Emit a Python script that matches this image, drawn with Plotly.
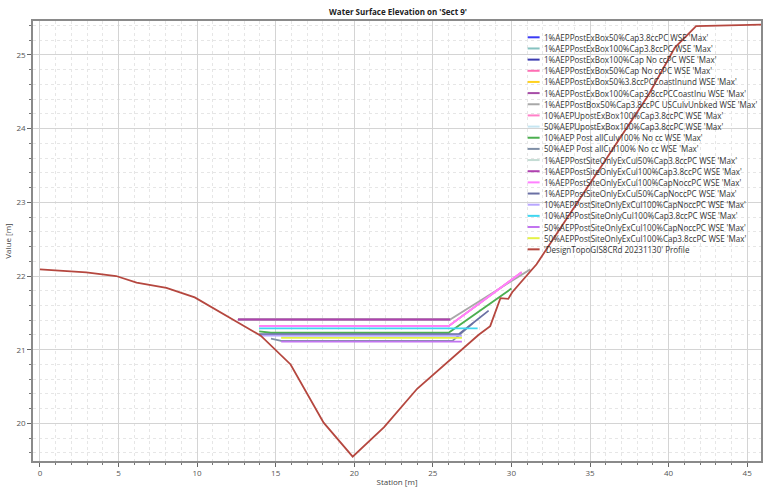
import plotly.graph_objects as go

# ---------------- data ----------------
series_names = [
    "1%AEPPostExBox50%Cap3.8ccPC WSE 'Max'",
    "1%AEPPostExBox100%Cap3.8ccPC WSE 'Max'",
    "1%AEPPostExBox100%Cap No ccPC WSE 'Max'",
    "1%AEPPostExBox50%Cap No ccPC WSE 'Max'",
    "1%AEPPostExBox50%3.8ccPCCoastInund WSE 'Max'",
    "1%AEPPostExBox100%Cap3.8ccPCCoastInu WSE 'Max'",
    "1%AEPPostBox50%Cap3.8ccPC USCulvUnbked WSE 'Max'",
    "10%AEPUpostExBox100%Cap3.8ccPC WSE 'Max'",
    "50%AEPUpostExBox100%Cap3.8ccPC WSE 'Max'",
    "10%AEP Post allCulv100% No cc WSE 'Max'",
    "50%AEP Post allCul100% No cc WSE 'Max'",
    "1%AEPPostSiteOnlyExCul50%Cap3.8ccPC WSE 'Max'",
    "1%AEPPostSiteOnlyExCul100%Cap3.8ccPC WSE 'Max'",
    "1%AEPPostSiteOnlyExCul100%CapNoccPC WSE 'Max'",
    "1%AEPPostSiteOnlyExCul50%CapNoccPC WSE 'Max'",
    "10%AEPPostSiteOnlyExCul100%CapNoccPC WSE 'Max'",
    "10%AEPPostSiteOnlyCul100%Cap3.8ccPC WSE 'Max'",
    "50%AEPPostSiteOnlyExCul100%CapNoccPC WSE 'Max'",
    "50%AEPPostSiteOnlyExCul100%Cap3.8ccPC WSE 'Max'",
    "'DesignTopoGIS8CRd 20231130' Profile",
]

series_colors = [
    "#3b3bf5", "#86c2c0", "#3c3cb0", "#ff6eb4", "#ffd21f",
    "#a64ca6", "#a8a8a8", "#ff80c8", "#c6e6f2", "#4caf50",
    "#7f8fa6", "#c4dcd4", "#b042b0", "#ff80ff", "#6a70a4",
    "#b8a6ff", "#3fd6f0", "#c274f0", "#e4f246", "#b5473f",
]

s1_x = [12.6, 26.1];                s1_y = [21.41, 21.41]
s2_x = [12.6, 26.1];                s2_y = [21.41, 21.41]
s3_x = [12.6, 26.1];                s3_y = [21.41, 21.41]
s4_x = [13.95, 26.0, 30.65];        s4_y = [21.32, 21.32, 22.05]
s5_x = [12.6, 26.1];                s5_y = [21.41, 21.41]
s6_x = [12.6, 26.1];                s6_y = [21.41, 21.41]
s7_x = [12.6, 26.1, 31.2];          s7_y = [21.41, 21.41, 22.09]
s8_x = [13.95, 26.0, 30.65];        s8_y = [21.32, 21.32, 22.05]
s9_x = [15.35, 26.85];              s9_y = [21.17, 21.17]
s10_x = [13.95, 14.7, 26.0, 30.0];  s10_y = [21.25, 21.23, 21.23, 21.83]
s11_x = [14.7, 15.35, 26.25, 27.55];s11_y = [21.15, 21.12, 21.12, 21.36]
s12_x = [12.6, 26.1];               s12_y = [21.41, 21.41]
s13_x = [12.6, 26.1];               s13_y = [21.41, 21.41]
s14_x = [13.95, 26.0, 30.65];       s14_y = [21.32, 21.32, 22.05]
s15_x = [13.95, 26.65, 28.55];      s15_y = [21.21, 21.21, 21.53]
s16_x = [13.95, 26.85];             s16_y = [21.19, 21.19]
s17_x = [13.95, 27.85];             s17_y = [21.29, 21.29]
s18_x = [15.35, 26.85];             s18_y = [21.11, 21.11]
s19_x = [15.35, 26.85];             s19_y = [21.16, 21.16]

profile_x = [0, 2.95, 4.85, 6.15, 8.05, 9.85, 12.6, 14.05, 15.95, 18.05, 19.9,
             21.9, 24.0, 26.0, 27.9, 28.65, 29.3, 29.8, 30.05, 31.6, 36.8,
             38.7, 40.4, 41.75, 45.9]
profile_y = [22.09, 22.05, 22.0, 21.91, 21.84, 21.71, 21.37, 21.19, 20.8, 20.01,
             19.55, 19.95, 20.47, 20.85, 21.2, 21.32, 21.7, 21.69, 21.78, 22.16,
             23.85, 24.45, 25.1, 25.39, 25.41]

series_x = [s1_x, s2_x, s3_x, s4_x, s5_x, s6_x, s7_x, s8_x, s9_x, s10_x, s11_x,
            s12_x, s13_x, s14_x, s15_x, s16_x, s17_x, s18_x, s19_x, profile_x]
series_y = [s1_y, s2_y, s3_y, s4_y, s5_y, s6_y, s7_y, s8_y, s9_y, s10_y, s11_y,
            s12_y, s13_y, s14_y, s15_y, s16_y, s17_y, s18_y, s19_y, profile_y]

x_range = [-0.44, 45.88]
y_range = [19.49, 25.46]

# ---------------- figure ----------------
W, H = 765, 495
ML, MR, MT, MB = 33, 2, 21, 34
PW, PH = W - ML - MR, H - MT - MB
FONT = "Open Sans"

fig = go.Figure()
for name, col, xs, ys in zip(series_names, series_colors, series_x, series_y):
    fig.add_trace(go.Scatter(x=xs, y=ys, mode="lines", name=name,
                             line=dict(color=col, width=1.8),
                             showlegend=False))

def px2paper_x(px):
    return (px - ML) / PW

def py2paper_y(py):
    return (H - MB - py) / PH

# compact legend (rows drawn as shapes + text)
row0, rowstep = 37.3, 11.16
for i, (name, col) in enumerate(zip(series_names, series_colors)):
    yy = py2paper_y(row0 + i * rowstep)
    fig.add_shape(type="line", xref="paper", yref="paper",
                  x0=px2paper_x(529), x1=px2paper_x(541), y0=yy, y1=yy,
                  line=dict(color=col, width=2))
    fig.add_annotation(xref="paper", yref="paper", x=px2paper_x(543), y=yy,
                       text=name, showarrow=False, xanchor="left",
                       yanchor="middle", font=dict(family=FONT, size=8.05, color="#333"))

axis_common = dict(
    showline=True, linecolor="#8a8a8a", linewidth=1.5, mirror=True,
    ticks="outside", ticklen=4, tickcolor="#666",
    showgrid=True, gridcolor="#d4d4d4", gridwidth=1,
    zeroline=False,
    tickfont=dict(family=FONT, size=8, color="#555"),
)

fig.update_xaxes(range=x_range, tick0=0, dtick=5,
                 title=dict(text="Station [m]", font=dict(family=FONT, size=8, color="#444"), standoff=2),
                 minor=dict(dtick=1, tick0=0, ticks="outside", ticklen=2, tickcolor="#777",
                            showgrid=True, gridcolor="#e6e6e6", griddash="dot"),
                 **axis_common)
fig.update_yaxes(range=y_range, tick0=0, dtick=1,
                 title=dict(text="Value [m]", font=dict(family=FONT, size=8, color="#444"), standoff=4),
                 minor=dict(dtick=0.2, tick0=0, ticks="outside", ticklen=2, tickcolor="#777",
                            showgrid=True, gridcolor="#e6e6e6", griddash="dot"),
                 **axis_common)

fig.update_layout(
    width=W, height=H,
    margin=dict(l=ML, r=MR, t=MT, b=MB),
    paper_bgcolor="white", plot_bgcolor="white",
    title=dict(text="<b>Water Surface Elevation on 'Sect 9'</b>",
               x=(ML + px2paper_x(398) * PW) / W, xanchor="center",
               y=1 - 11.7 / H, yanchor="middle",
               font=dict(family=FONT, size=8, color="#222")),
    showlegend=False,
)

fig.write_html("out.html", config={"displayModeBar": False},
               post_script="document.body.style.margin='0';")
